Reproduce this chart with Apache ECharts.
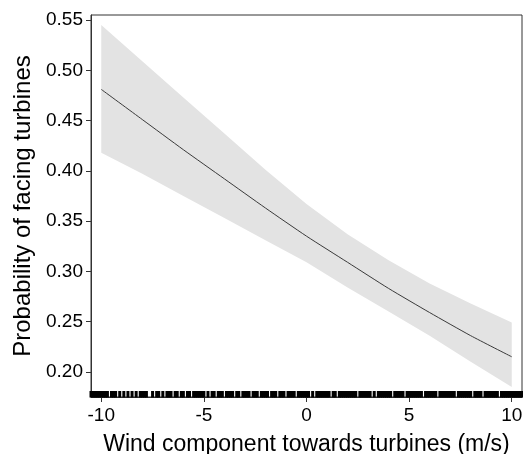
<!DOCTYPE html>
<html>
<head>
<meta charset="utf-8">
<script src="https://cdn.jsdelivr.net/npm/echarts@6/dist/echarts.min.js"></script>
<style>
  html, body { margin: 0; padding: 0; background: #fff; }
  #chart { width: 523px; height: 454px; }
</style>
</head>
<body>
<div id="chart"></div>
<script>
// fitted curve and its confidence band
const xs    = [-10, -8, -6, -4, -2, 0, 2, 4, 6, 8, 10];
const fit   = [0.481, 0.451, 0.421, 0.392, 0.363, 0.335, 0.309, 0.283, 0.259, 0.236, 0.215];
const upper = [0.545, 0.509, 0.473, 0.437, 0.401, 0.367, 0.337, 0.311, 0.288, 0.268, 0.249];
const lower = [0.418, 0.397, 0.375, 0.353, 0.331, 0.309, 0.284, 0.260, 0.236, 0.210, 0.185];

// rug of observed wind components
const rugX = [
  -10.5,-10.4,-10.3,-10.2,-10.1,-10,-9.9,-9.8,-9.7,-9.5,-9.4,-9.3,-9.1,-8.9,-8.7,-8.5,-8.3,-8.1,-8,
  -7.9,-7.8,-7.5,-7.3,-7.2,-7,-6.8,-6.7,-6.6,-6.4,-6.3,-6.1,-6,-5.8,-5.7,-5.5,-5.4,-5.3,-5.2,-5.1,
  -5,-4.8,-4.6,-4.5,-4.3,-4.2,-4.1,-3.9,-3.8,-3.7,-3.6,-3.4,-3.3,-3.1,-3,-2.9,-2.8,-2.6,-2.5,-2.4,
  -2.2,-2.1,-2,-1.9,-1.7,-1.6,-1.5,-1.3,-1.2,-1.1,-0.9,-0.8,-0.7,-0.6,-0.4,-0.3,-0.2,-0.1,0,0.1,
  0.3,0.5,0.6,0.7,0.8,0.9,1,1.1,1.3,1.4,1.6,1.7,1.8,1.9,2,2.1,2.2,2.3,2.4,2.6,2.7,2.8,2.9,3,3.1,
  3.3,3.5,3.6,3.7,3.8,3.9,4,4.1,4.3,4.4,4.5,4.6,4.7,4.9,5,5.1,5.2,5.3,5.4,5.5,5.6,5.8,5.9,6,6.1,
  6.2,6.3,6.5,6.6,6.7,6.8,6.9,7,7.1,7.2,7.4,7.5,7.6,7.7,7.8,7.9,8,8.2,8.3,8.4,8.5,8.7,8.8,8.9,9,
  9.1,9.2,9.3,9.5,9.6,9.7,9.8,9.9,10,10.1,10.2,10.3,10.4,10.5
];

const xTicks = [-10, -5, 0, 5, 10];
const yTicks = [0.20, 0.25, 0.30, 0.35, 0.40, 0.45, 0.50, 0.55];

const X_MIN = -10.5, X_MAX = 10.5, Y_MIN = 0.175, Y_MAX = 0.555;
const FONT = '"Liberation Sans", Arial, sans-serif';

const chart = echarts.init(document.getElementById('chart'));

const option = {
  animation: false,
  grid: {
    left: 91, right: 1, top: 15, bottom: 57,
    outerBoundsMode: 'none',
    show: true, borderColor: '#333', borderWidth: 1, backgroundColor: 'transparent'
  },
  xAxis: {
    type: 'value', min: X_MIN, max: X_MAX,
    name: 'Wind component towards turbines (m/s)',
    nameLocation: 'middle', nameGap: 36,
    nameTextStyle: { fontFamily: FONT, fontSize: 23, color: '#000' },
    axisLine: { show: true, onZero: false, lineStyle: { color: '#333' } },
    axisTick: { show: true, length: 5, customValues: xTicks, lineStyle: { color: '#333' } },
    axisLabel: { customValues: xTicks, margin: 9, fontFamily: FONT, fontSize: 19, color: '#000' },
    splitLine: { show: false }
  },
  yAxis: {
    type: 'value', min: Y_MIN, max: Y_MAX,
    name: 'Probability of facing turbines',
    nameLocation: 'middle', nameGap: 52,
    nameTextStyle: { fontFamily: FONT, fontSize: 24, color: '#000' },
    axisLine: { show: true, onZero: false, lineStyle: { color: '#333' } },
    axisTick: { show: true, length: 5, customValues: yTicks, lineStyle: { color: '#333' } },
    axisLabel: {
      customValues: yTicks, margin: 8, fontFamily: FONT, fontSize: 19, color: '#000',
      formatter: v => v.toFixed(2)
    },
    splitLine: { show: false }
  },
  series: [
    {
      // confidence ribbon
      type: 'custom',
      silent: true,
      data: [0],
      renderItem: (params, api) => {
        const pts = [];
        xs.forEach((x, i) => pts.push(api.coord([x, upper[i]])));
        for (let i = xs.length - 1; i >= 0; i--) pts.push(api.coord([xs[i], lower[i]]));
        return { type: 'polygon', shape: { points: pts }, style: { fill: '#e3e3e3' } };
      },
      z: 1
    },
    {
      type: 'line',
      data: xs.map((x, i) => [x, fit[i]]),
      showSymbol: false,
      smooth: 0.2,
      lineStyle: { color: '#3a3a3a', width: 1 },
      z: 2
    },
    {
      // rug
      type: 'custom',
      silent: true,
      clip: false,
      data: rugX,
      renderItem: (params, api) => {
        const p = api.coord([api.value(0), Y_MIN]);
        return {
          type: 'line',
          shape: { x1: p[0], y1: p[1] + 0.5, x2: p[0], y2: p[1] - 6 },
          style: { stroke: '#000', lineWidth: 3 }
        };
      },
      z: 3
    }
  ]
};

option && chart.setOption(option);
</script>
</body>
</html>
